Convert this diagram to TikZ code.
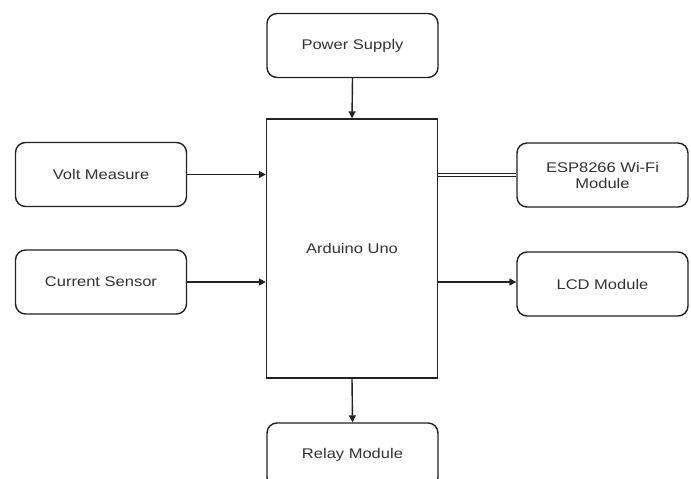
\documentclass[tikz,border=0pt]{standalone}
\usepackage{fontspec}
\setmainfont{Liberation Sans}[FakeStretch=1.18]
\usetikzlibrary{arrows.meta}
\definecolor{linec}{HTML}{222222}
\definecolor{textc}{HTML}{333333}
\tikzset{
  blk/.style={draw=linec, line width=1.4pt, rounded corners=10pt, minimum width=171pt, minimum height=64pt, inner sep=0pt, align=center, text=textc, font=\fontsize{14pt}{16pt}\selectfont},
  mainblk/.style={draw=linec, line width=1.4pt, minimum width=171pt, minimum height=259pt, inner sep=0pt, text=textc, font=\fontsize{14pt}{16pt}\selectfont},
  conn/.style={draw=linec, line width=1.4pt, -{Triangle[length=7pt,width=7pt]}},
  dconn/.style={draw=linec, line width=1.1pt, double=white, double distance=2.6pt}
}
\begin{document}
\begin{tikzpicture}[x=1pt,y=-1pt]
\useasboundingbox (0,0) rectangle (691,479);
\fill[white] (0,0) rectangle (691,479);
\clip (0,0) rectangle (691,479);
\node[blk] (ps) at (352.5,45.5) {Power Supply};
\node[mainblk] (ard) at (352,248.5) {Arduino Uno};
\node[blk] (vm) at (101,174.5) {Volt Measure};
\node[blk] (cs) at (101,282) {Current Sensor};
\node[blk] (esp) at (602.5,175) {ESP8266 Wi-Fi\\Module};
\node[blk] (lcd) at (602.5,284) {LCD Module};
\node[blk] (rm) at (352.5,455) {Relay Module};
\draw[conn] (ps.south) -- (ard.north);
\draw[conn] (vm.east) -- (vm.east -| ard.west);
\draw[conn] (cs.east) -- (cs.east -| ard.west);
\draw[dconn] (esp.west -| ard.east) -- (esp.west);
\draw[conn] (ard.east |- 0,282) -- (lcd.west |- 0,282);
\draw[conn] (ard.south) -- (rm.north);
\end{tikzpicture}
\end{document}
